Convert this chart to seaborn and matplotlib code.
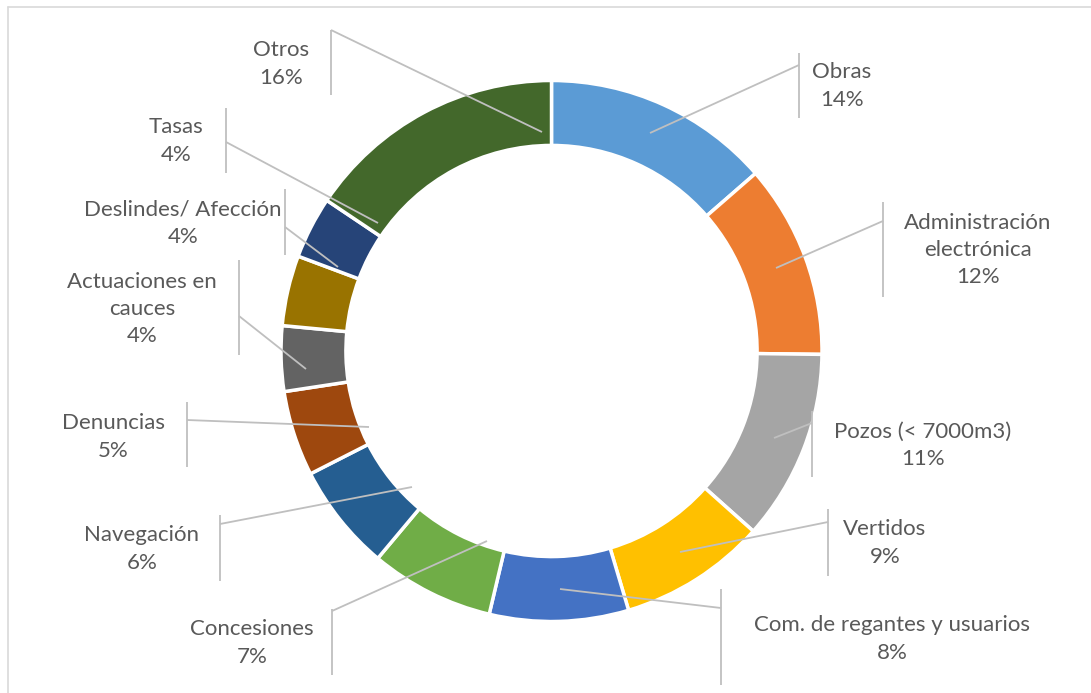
import matplotlib
matplotlib.use("Agg")
import matplotlib.pyplot as plt
from matplotlib.lines import Line2D
import seaborn as sns

# Datos del gráfico (porcentaje de expedientes por tipo)
categorias = ["Obras", "Administración\nelectrónica", "Pozos (< 7000m3)", "Vertidos",
              "Com. de regantes y usuarios", "Concesiones", "Navegación", "Denuncias",
              "Actuaciones en\ncauces", "Deslindes/ Afección", "Tasas", "Otros"]
porcentajes = [13.6, 11.6, 11.4, 8.8, 8.3, 7.4, 6.4, 5.1, 3.9, 4.2, 3.7, 15.6]
colores = ["#5B9BD5", "#ED7D31", "#A5A5A5", "#FFC000", "#4472C4", "#70AD47",
           "#255E91", "#9E480E", "#636363", "#997300", "#264478", "#43682B"]

# Posición de etiquetas en píxeles: centro del texto, línea vertical (x, y0, y1, y unión)
# y punto final de la línea guía dentro del anillo
etiquetas_pos = [
    ((842, 86), (799, 53, 118, 65), (650, 133)),
    ((978, 250), (883, 202, 297, 221), (776, 268)),
    ((923, 445), (812, 411, 477, 423), (774, 438)),
    ((885, 543), (828, 509, 576, 522), (680, 552)),
    ((892, 639), (721, 589, 685, 608), (560, 589)),
    ((252, 643), (332, 609, 675, 611), (487, 541)),
    ((142, 549), (220, 515, 581, 524), (412, 487)),
    ((113, 437), (187, 402, 467, 420), (369, 427)),
    ((142, 309), (239, 260, 355, 316), (306, 369)),
    ((183, 223), (285, 189, 255, 227), (338, 267)),
    ((176, 141), (226, 108, 173, 142), (378, 223)),
    ((281, 64), (331, 30, 95, 30), (542, 132)),
]

W, H = 1091, 693
CX, CY, R = 551.5, 351.0, 270.5


def a_datos(x, y):
    """Convierte píxeles de la imagen a coordenadas del eje."""
    return (x - CX) / R, (CY - y) / R


sns.set_style("white")
plt.rcParams['font.family'] = ['Lato', 'DejaVu Sans']

fig = plt.figure(figsize=(W / 100, H / 100), dpi=100)
ax = fig.add_axes([0, 0, 1, 1])

ax.pie(porcentajes, colors=sns.color_palette(colores), startangle=90, counterclock=False,
       radius=1, wedgeprops=dict(width=0.24, edgecolor='white', linewidth=2.5))

total = sum(porcentajes)
gris_linea = "#BFBFBF"
for nombre, valor, (centro, vline, fin) in zip(categorias, porcentajes, etiquetas_pos):
    tx, ty = a_datos(*centro)
    ax.text(tx, ty, f"{nombre}\n{valor / total * 100:.0f}%", ha='center', va='center',
            fontsize=16, color="#595959", linespacing=1.45)
    vx, vy0, vy1, vj = vline
    x0, y0 = a_datos(vx, vy0)
    x1, y1 = a_datos(vx, vy1)
    ax.plot([x0, x1], [y0, y1], color=gris_linea, lw=1.3, solid_capstyle='butt')
    xj, yj = a_datos(vx, vj)
    xf, yf = a_datos(*fin)
    ax.plot([xj, xf], [yj, yf], color=gris_linea, lw=1.3, solid_capstyle='butt')

xa, ya = a_datos(0, 0)
xb, yb = a_datos(W, H)
ax.set_xlim(xa, xb)
ax.set_ylim(yb, ya)
ax.set_aspect('equal')
ax.axis('off')

# Borde del área del gráfico (solo visible arriba e izquierda)
fig.add_artist(Line2D([7.5 / W, 7.5 / W], [0, 1 - 6.5 / H], transform=fig.transFigure,
                      color="#D9D9D9", lw=1.2))
fig.add_artist(Line2D([7.5 / W, 1], [1 - 6.5 / H, 1 - 6.5 / H], transform=fig.transFigure,
                      color="#D9D9D9", lw=1.2))

fig.savefig("out.png", dpi=100, facecolor='white')
